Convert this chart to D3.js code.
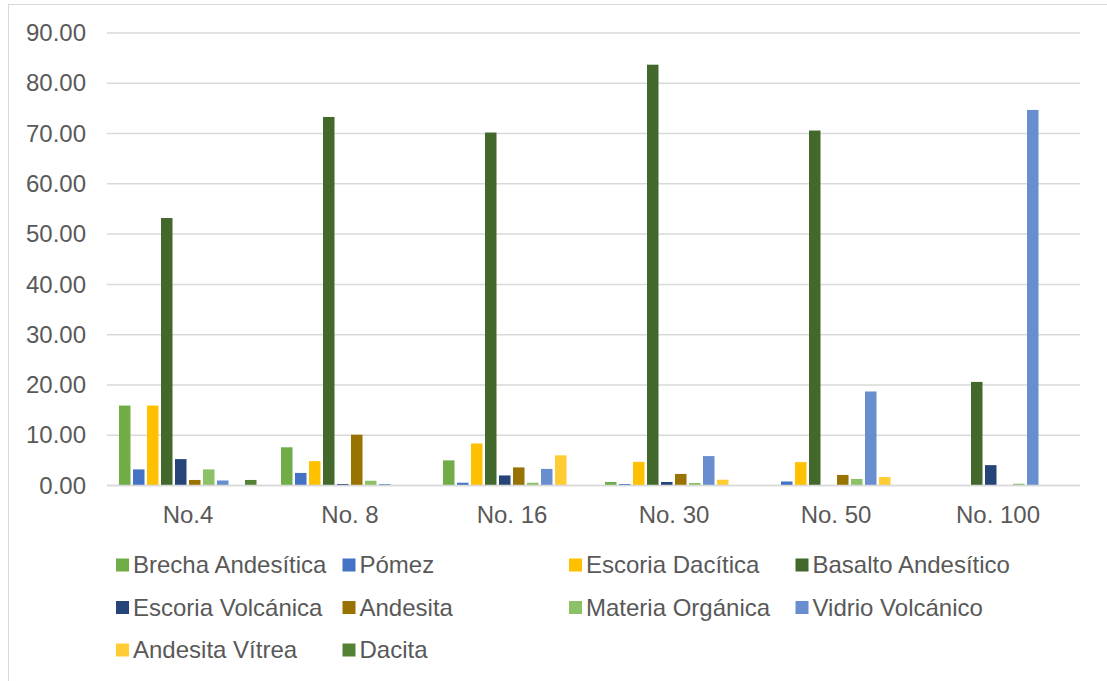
<!DOCTYPE html>
<html>
<head>
<meta charset="utf-8">
<script src="https://cdn.jsdelivr.net/npm/d3@7"></script>
<style>
  html, body { margin: 0; padding: 0; background: #fff; }
  svg { display: block; }
  text { font-family: "Liberation Sans", Arial, sans-serif; fill: #595959; }
</style>
</head>
<body>
<svg id="chart" width="1107" height="681"></svg>
<script>
// Sieve fractions and rock components (%)
const categories = ["No.4", "No. 8", "No. 16", "No. 30", "No. 50", "No. 100"];
const seriesNames = [
  "Brecha Andesítica", "Pómez", "Escoria Dacítica", "Basalto Andesítico",
  "Escoria Volcánica", "Andesita", "Materia Orgánica", "Vidrio Volcánico",
  "Andesita Vítrea", "Dacita"
];
const brechaAndesitica  = [15.9, 7.6, 5.0, 0.7, 0.0, 0.0];
const pomez             = [3.2, 2.5, 0.55, 0.3, 0.8, 0.0];
const escoriaDacitica   = [15.9, 4.85, 8.35, 4.7, 4.65, 0.0];
const basaltoAndesitico = [53.2, 73.3, 70.2, 83.7, 70.6, 20.6];
const escoriaVolcanica  = [5.25, 0.3, 2.0, 0.7, 0.0, 4.05];
const andesita          = [1.1, 10.1, 3.6, 2.3, 2.1, 0.0];
const materiaOrganica   = [3.2, 0.95, 0.55, 0.5, 1.3, 0.35];
const vidrioVolcanico   = [1.0, 0.3, 3.3, 5.85, 18.7, 74.7];
const andesitaVitrea    = [0.0, 0.0, 6.0, 1.15, 1.7, 0.0];
const dacita            = [1.1, 0.0, 0.0, 0.0, 0.0, 0.0];
const yTicks = [0, 10, 20, 30, 40, 50, 60, 70, 80, 90];

const seriesValues = [
  brechaAndesitica, pomez, escoriaDacitica, basaltoAndesitico, escoriaVolcanica,
  andesita, materiaOrganica, vidrioVolcanico, andesitaVitrea, dacita
];
const colors = [
  "#70AD47", "#4472C4", "#FFC000", "#43682B", "#264478",
  "#997300", "#8CC168", "#698ED0", "#FFCD33", "#548235"
];

const fontSize = "24px";
const svg = d3.select("#chart");

// outer chart frame
svg.append("rect")
  .attr("x", 8.5).attr("y", 4.5)
  .attr("width", 1110).attr("height", 690)
  .attr("fill", "#fff").attr("stroke", "#d9d9d9").attr("stroke-width", 1);

const plot = { left: 107, right: 1079, top: 33, bottom: 485.5 };

const y = d3.scaleLinear().domain([0, 90]).range([plot.bottom, plot.top]);
const x0 = d3.scaleBand().domain(categories)
  .range([plot.left, plot.right])
  .paddingInner(0.1358).paddingOuter(0.0679);
const x1 = d3.scaleBand().domain(seriesNames).range([0, x0.bandwidth()]);

// horizontal gridlines
svg.append("g").selectAll("line")
  .data(yTicks)
  .join("line")
  .attr("x1", plot.left).attr("x2", plot.right + 1)
  .attr("y1", d => y(d)).attr("y2", d => y(d))
  .attr("stroke", "#d9d9d9").attr("stroke-width", 1.5);

// y axis labels
const yAxis = d3.axisLeft(y).tickValues(yTicks).tickFormat(d3.format(".2f")).tickSize(0).tickPadding(21);
const gy = svg.append("g").attr("transform", `translate(${plot.left},0)`).call(yAxis);
gy.select(".domain").remove();
gy.selectAll("text").style("font-size", fontSize).attr("fill", "#595959")
  .style("font-family", "'Liberation Sans', Arial, sans-serif");

// bars
const groups = svg.append("g").selectAll("g")
  .data(categories)
  .join("g")
  .attr("transform", d => `translate(${x0(d)},0)`);

groups.selectAll("rect")
  .data((c, ci) => seriesNames.map((s, si) => ({ s, si, v: seriesValues[si][ci] })).filter(d => d.v > 0))
  .join("rect")
  .attr("x", d => x1(d.s) + 1)
  .attr("width", x1.bandwidth() - 2.5)
  .attr("y", d => y(d.v))
  .attr("height", d => y(0) - y(d.v))
  .attr("fill", d => colors[d.si]);

// baseline redrawn over the bars
svg.append("line")
  .attr("x1", plot.left).attr("x2", plot.right + 1)
  .attr("y1", y(0)).attr("y2", y(0))
  .attr("stroke", "#d9d9d9").attr("stroke-width", 1.5);

// x axis labels
const xAxis = d3.axisBottom(x0).tickSize(0).tickPadding(20);
const gx = svg.append("g").attr("transform", `translate(0,${y(0)})`).call(xAxis);
gx.select(".domain").remove();
gx.selectAll("text").style("font-size", fontSize).attr("fill", "#595959")
  .style("font-family", "'Liberation Sans', Arial, sans-serif");

// legend, four columns
const legendCols = 4, colStep = 226.5, rowStep = 42.5;
const legend = svg.append("g").attr("transform", "translate(116,565)");
const items = legend.selectAll("g")
  .data(seriesNames)
  .join("g")
  .attr("transform", (d, i) => `translate(${(i % legendCols) * colStep},${Math.floor(i / legendCols) * rowStep})`);
items.append("rect")
  .attr("x", 0).attr("y", -6.5)
  .attr("width", 13).attr("height", 13)
  .attr("fill", (d, i) => colors[i]);
items.append("text")
  .attr("x", 17).attr("y", 0)
  .attr("dy", "0.35em")
  .style("font-size", fontSize)
  .text(d => d);
</script>
</body>
</html>
